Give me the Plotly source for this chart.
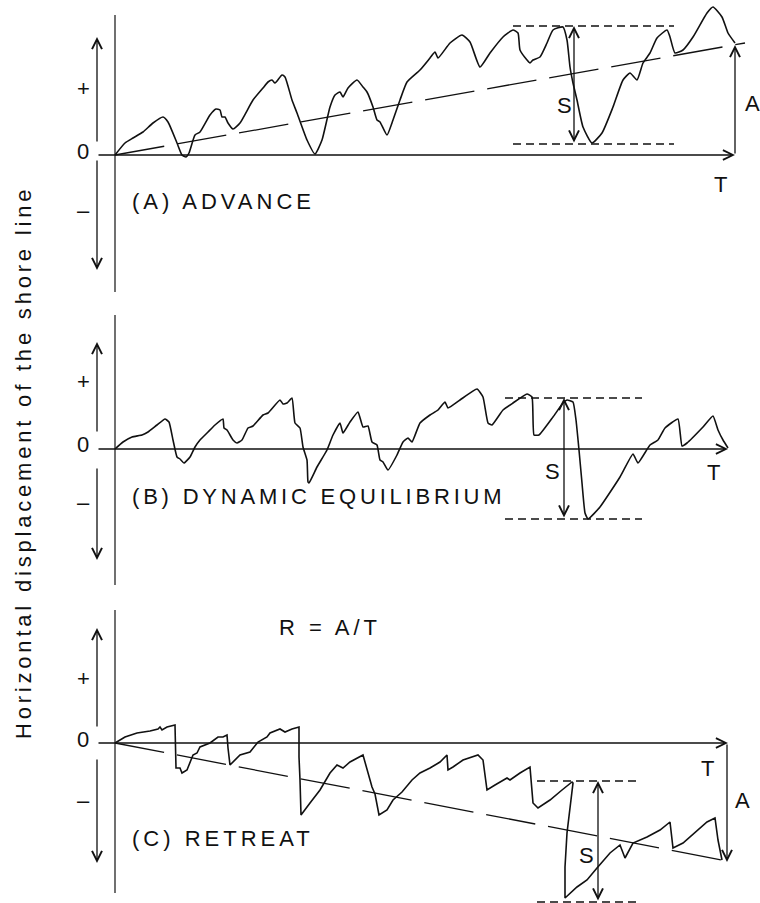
import plotly.graph_objects as go

# ---------------- data (time t: arbitrary units, T = 620; displacement d: + advance / - retreat)
ADV_T = [0, 10, 18, 28, 38, 48, 53, 62, 67, 71,
         74, 80, 85, 95, 101, 105, 107, 110, 113, 118,
         125, 138, 148, 153, 157, 160, 167, 170, 177, 182,
         192, 200, 207, 215, 220, 225, 228, 233, 242, 248,
         252, 258, 262, 265, 272, 278, 285, 292, 305, 315,
         320, 323, 335, 347, 355, 365, 375, 388, 398, 403,
         405, 412, 415, 418, 425, 432, 438, 448, 452, 455,
         458, 462, 468, 477, 487, 498, 508, 515, 522, 528,
         535, 542, 552, 555, 560, 568, 578, 592, 598, 607,
         613, 620]
ADV_D = [0, 12, 17, 23, 32, 38, 33, 12, 0, -2,
         2, 20, 23, 40, 46, 45, 38, 38, 32, 26,
         32, 55, 67, 73, 75, 72, 80, 78, 55, 42,
         15, 1, 15, 48, 60, 63, 58, 67, 75, 68,
         63, 48, 35, 33, 20, 35, 55, 73, 85, 97,
         103, 97, 112, 120, 113, 88, 102, 118, 125, 122,
         105, 95, 92, 95, 98, 112, 125, 128, 115, 88,
         72, 55, 28, 12, 22, 48, 75, 82, 75, 92,
         102, 117, 125, 118, 102, 105, 118, 142, 148, 138,
         122, 112]

EQ_T = [0, 8, 17, 27, 33, 42, 50, 54, 58, 62,
        65, 69, 75, 80, 85, 93, 100, 108, 109, 112,
        118, 122, 127, 133, 138, 148, 153, 165, 168, 172,
        177, 180, 185, 188, 192, 193, 194, 202, 212, 218,
        225, 228, 235, 243, 248, 253, 257, 262, 265, 268,
        273, 282, 288, 293, 297, 305, 315, 323, 330, 333,
        345, 362, 368, 373, 377, 388, 398, 412, 417, 419,
        424, 438, 448, 452, 458, 461, 464, 467, 470, 473,
        485, 505, 518, 523, 535, 543, 550, 563, 567, 572,
        588, 598, 603, 608, 613]
EQ_D = [0, 7, 12, 14, 17, 24, 30, 27, 9, -8,
        -10, -14, -8, 2, 9, 17, 24, 30, 21, 19,
        9, 6, 9, 21, 23, 34, 36, 49, 45, 46,
        51, 26, 21, 2, -11, -33, -34, -18, -1, 14,
        26, 16, 27, 37, 22, 23, 7, 4, -11, -13,
        -21, -6, 7, 11, 7, 26, 34, 39, 47, 41,
        49, 60, 52, 26, 24, 39, 46, 55, 52, 14,
        14, 32, 46, 49, 47, 29, -1, -34, -64, -70,
        -58, -28, -5, -14, 4, 9, 21, 30, 3, 6,
        22, 33, 19, 9, 1]

RET_T = [0, 10, 22, 35, 43, 45, 47, 52, 60, 61,
         65, 67, 72, 75, 78, 82, 85, 95, 103, 108,
         112, 113, 115, 125, 135, 143, 152, 155, 165, 170,
         177, 184, 184, 185, 186, 195, 205, 215, 222, 228,
         235, 248, 252, 257, 260, 264, 272, 278, 287, 297,
         305, 315, 325, 332, 333, 338, 348, 363, 368, 372,
         380, 392, 395, 405, 415, 417, 418, 423, 435, 447,
         457, 458, 455, 452, 450, 450, 462, 472, 482, 495,
         505, 510, 518, 532, 545, 555, 558, 568, 592, 600,
         603, 607]
RET_D = [0, 6, 10, 12, 14, 16, 13, 16, 18, -25,
         -25, -30, -27, -19, -12, -10, -4, 0, 6, 6,
         8, -5, -22, -12, -9, 1, 6, 10, 14, 11,
         14, 16, -14, -37, -72, -60, -47, -30, -22, -25,
         -19, -12, -27, -44, -51, -72, -67, -57, -49, -37,
         -30, -25, -19, -12, -27, -24, -17, -12, -17, -47,
         -42, -35, -37, -30, -24, -44, -60, -65, -57, -47,
         -39, -40, -64, -90, -124, -155, -144, -137, -125, -110,
         -102, -115, -100, -94, -87, -79, -105, -100, -79, -75,
         -97, -117]

# long-term trends (net change A over the period T)
ADV_TREND_T = [0, 630]
ADV_TREND_D = [0, 112]
RET_TREND_T = [0, 607]
RET_TREND_D = [0, -117]

# storm swing S per panel: [t of arrow, low, high, dash start t, dash end t]
SWING_ADV = [459, 11, 129, 398, 559]
SWING_EQ = [449, -70, 51, 390, 527]
SWING_RET = [483, -159, -38, 422, 522]

T_END = [620, 613, 613]        # end of the time axis per panel
NET_A_ADV = [620, 110]         # t, A
NET_A_RET = [612, -119]

PANEL_LABELS = ["(A) ADVANCE", "(B) DYNAMIC EQUILIBRIUM", "(C) RETREAT"]
Y_TITLE = "Horizontal displacement of the shore line"

# ---------------- styling
FONT = "Liberation Sans, Arial, Helvetica, sans-serif"
INK = "#111111"
W, H = 760, 903

fig = go.Figure()

def curve(t, d, yref, dash=None, width=1.6, shape="linear", smooth=None):
    line = dict(color=INK, width=width, dash=dash, shape=shape)
    if smooth is not None:
        line["smoothing"] = smooth
    fig.add_trace(go.Scatter(x=t, y=d, mode="lines", xaxis="x", yaxis=yref,
                             line=line, hoverinfo="skip", cliponaxis=False))

annotations = []
shapes = []

def spaced(text, ls):
    return f'<span style="letter-spacing:{ls}px">{text}</span>' if ls else text

def label(yref, x, y, text, size=21, xanchor="center", ls=0, xref="x"):
    annotations.append(dict(xref=xref, yref=yref, x=x, y=y, text=spaced(text, ls),
                            showarrow=False, xanchor=xanchor, yanchor="middle",
                            font=dict(family=FONT, size=size, color=INK)))

def arrow(yref, x, y, ax, ay, both=False, width=1.3):
    annotations.append(dict(xref="x", yref=yref, x=x, y=y, axref="x", ayref=yref,
                            ax=ax, ay=ay, text="", showarrow=True,
                            arrowhead=5, arrowsize=1.5, arrowwidth=width,
                            startarrowhead=5, startarrowsize=1.5,
                            arrowside="end+start" if both else "end",
                            arrowcolor=INK, standoff=0, startstandoff=0))

def vline(yref, x, y0, y1, width=1.2):
    shapes.append(dict(type="line", xref="x", yref=yref, x0=x, x1=x, y0=y0, y1=y1,
                       line=dict(color=INK, width=width)))

def frame(yref, top, bottom, tend, up, down, plus_y, minus_y):
    vline(yref, 0, top, bottom)                 # vertical axis
    arrow(yref, tend, 0, -18, 0)                # time axis with arrow
    arrow(yref, -18, up[1], -18, up[0])         # + direction arrow
    arrow(yref, -18, down[1], -18, down[0])     # - direction arrow
    label(yref, -32, plus_y, "+", size=22)
    label(yref, -32, 4, "0", size=22)
    label(yref, -32, minus_y, "–", size=22)

def swing(yref, s, s_label):
    t, lo, hi, ds, de = s
    curve([ds, de], [hi, hi], yref, dash="8px,5px", width=1.3)
    curve([ds, de], [lo, lo], yref, dash="8px,5px", width=1.3)
    arrow(yref, t, hi, t, lo, both=True)
    label(yref, s_label[0], s_label[1], "S", size=22)

# ---------- Panel A: advance
frame("y", 140, -137, T_END[0], (12, 118), (-4, -115), 67, -55)
curve(ADV_TREND_T, ADV_TREND_D, "y", dash="50px,13px", width=1.3)
curve(ADV_T, ADV_D, "y", shape="spline", smooth=0.5)
swing("y", SWING_ADV, (449, 50))
arrow("y", NET_A_ADV[0], NET_A_ADV[1], NET_A_ADV[0], 0)
label("y", 637, 52, "A", size=22)
label("y", 605, -29, "T", size=22)
label("y", 15, -46, PANEL_LABELS[0], xanchor="left", size=22, ls=4)

# ---------- Panel B: dynamic equilibrium
frame("y2", 134, -136, T_END[1], (16, 107), (-18, -111), 67, -54)
curve(EQ_T, EQ_D, "y2", shape="spline", smooth=0.4)
swing("y2", SWING_EQ, (437, -23))
label("y2", 598, -24, "T", size=22)
label("y2", 15, -48, PANEL_LABELS[1], xanchor="left", size=22, ls=3.8)

# ---------- Panel C: retreat
frame("y3", 133, -150, T_END[2], (15, 115), (-15, -120), 65, -57)
curve(RET_TREND_T, RET_TREND_D, "y3", dash="50px,13px", width=1.3)
curve(RET_T, RET_D, "y3")
swing("y3", SWING_RET, (471, -112))
arrow("y3", NET_A_RET[0], NET_A_RET[1], NET_A_RET[0], 0)
label("y3", 627, -57, "A", size=22)
label("y3", 592, -25, "T", size=22)
label("y3", 15, -95, PANEL_LABELS[2], xanchor="left", size=22, ls=4)
label("y3", 215, 116, "R = A/T", size=22, ls=4)

# ---------- shared y title
annotations.append(dict(xref="paper", yref="paper", x=23 / W, y=1 - 463 / H,
                        text=spaced(Y_TITLE, 3.8), textangle=-90, showarrow=False,
                        xanchor="center", yanchor="middle",
                        font=dict(family=FONT, size=22, color=INK)))

hidden = dict(visible=False, showgrid=False, zeroline=False, fixedrange=True)
fig.update_layout(
    width=W, height=H, margin=dict(l=0, r=0, t=0, b=0),
    paper_bgcolor="white", plot_bgcolor="white", showlegend=False,
    xaxis=dict(range=[-115, 645], domain=[0, 1], **hidden),
    yaxis=dict(domain=[1 - 300 / H, 1], range=[-145, 155], anchor="x", **hidden),
    yaxis2=dict(domain=[1 - 600 / H, 1 - 300 / H], range=[-151, 149], anchor="x", **hidden),
    yaxis3=dict(domain=[0, 1 - 600 / H], range=[-160, 143], anchor="x", **hidden),
    annotations=annotations, shapes=shapes,
)

fig.write_html("out.html")
